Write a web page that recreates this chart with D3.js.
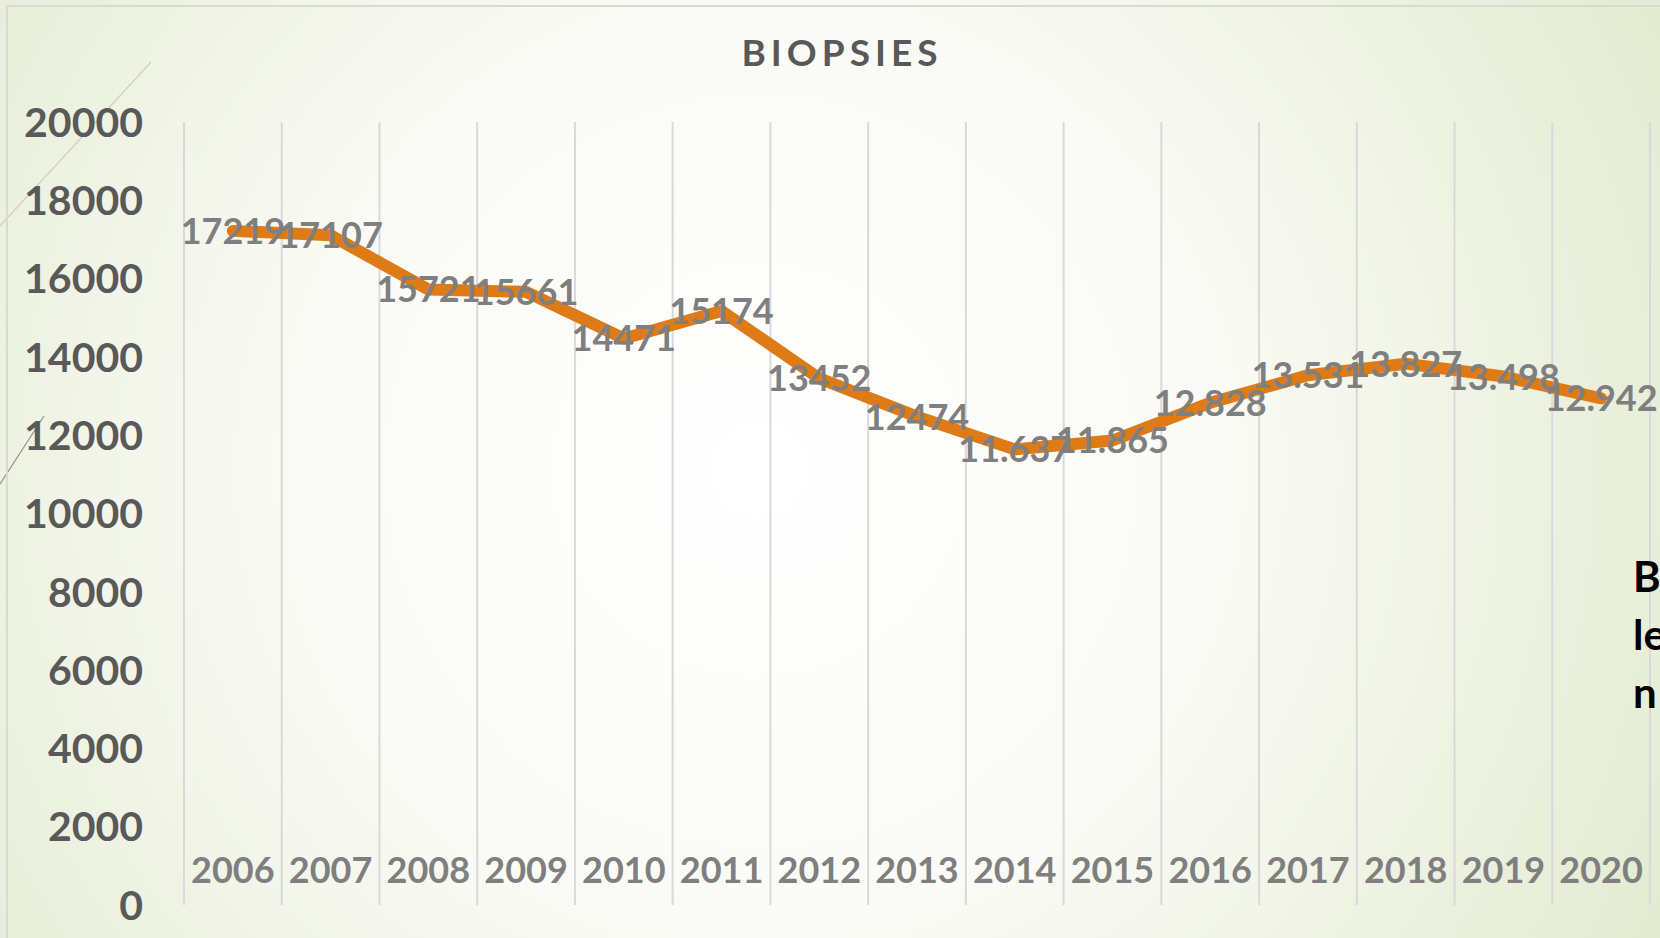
<!DOCTYPE html>
<html>
<head>
<meta charset="utf-8">
<script src="https://cdn.jsdelivr.net/npm/d3@7"></script>
<style>
  html, body { margin: 0; padding: 0; overflow: hidden; }
  body { width: 1660px; height: 938px; }
  svg { display: block; font-family: Lato, "Open Sans", sans-serif; }
</style>
</head>
<body>
<div id="chart"></div>
<script>
// Data
const years = ['2006', '2007', '2008', '2009', '2010', '2011', '2012', '2013', '2014', '2015', '2016', '2017', '2018', '2019', '2020'];
const biopsies = [17219, 17107, 15721, 15661, 14471, 15174, 13452, 12474, 11637, 11865, 12828, 13531, 13827, 13498, 12942];
const valueLabels = ['17219', '17107', '15721', '15661', '14471', '15174', '13452', '12474', '11.637', '11.865', '12.828', '13.531', '13.827', '13.498', '12.942'];
const yTicks = [0, 2000, 4000, 6000, 8000, 10000, 12000, 14000, 16000, 18000, 20000];
const chartTitle = 'BIOPSIES';
const sideText = ['B', 'le', 'n'];

const W = 1660, H = 938;
const plot = { left: 184, right: 1650, top: 122, bottom: 905 };

const svg = d3.select('#chart')
    .append('svg')
    .attr('width', W)
    .attr('height', H);

// Background
const defs = svg.append('defs');
const grad = defs.append('radialGradient')
    .attr('id', 'bg')
    .attr('gradientUnits', 'userSpaceOnUse')
    .attr('cx', 760).attr('cy', 470).attr('r', 1000);
grad.append('stop').attr('offset', '0%').attr('stop-color', '#ffffff');
grad.append('stop').attr('offset', '45%').attr('stop-color', '#fafbf6');
grad.append('stop').attr('offset', '100%').attr('stop-color', '#e4ebd2');

svg.append('rect')
    .attr('width', W).attr('height', H)
    .attr('fill', 'url(#bg)');

// Decorative slide lines
svg.append('line')
    .attr('x1', 151).attr('y1', 62).attr('x2', 0).attr('y2', 226)
    .attr('stroke', '#cdd2bd').attr('stroke-width', 1.2);
svg.append('line')
    .attr('x1', 44).attr('y1', 416).attr('x2', 0).attr('y2', 484)
    .attr('stroke', '#8c8f84').attr('stroke-width', 1.2);

// Chart frame
svg.append('rect')
    .attr('x', 7).attr('y', 6)
    .attr('width', 1700).attr('height', 1000)
    .attr('fill', 'none')
    .attr('stroke', '#d9d9d9').attr('stroke-width', 2);

// Scales
const x = d3.scaleBand()
    .domain(years)
    .range([plot.left, plot.right]);

const y = d3.scaleLinear()
    .domain([0, 20000])
    .range([plot.bottom, plot.top]);

const cx = d => x(d) + x.bandwidth() / 2;

// Vertical grid (category boundaries)
const bounds = years.map(d => x(d)).concat([plot.right]);
svg.append('g')
    .selectAll('line')
    .data(bounds)
    .join('line')
    .attr('x1', d => d).attr('x2', d => d)
    .attr('y1', plot.top).attr('y2', plot.bottom)
    .attr('stroke', '#d9d9d9')
    .attr('stroke-width', 2);

// Y axis labels
svg.append('g')
    .selectAll('text')
    .data(yTicks)
    .join('text')
    .attr('x', 143)
    .attr('y', d => y(d))
    .attr('dy', '0.36em')
    .attr('text-anchor', 'end')
    .attr('font-size', 41)
    .attr('font-weight', 'bold')
    .attr('fill', '#595959')
    .text(d => d);

// X axis labels (sit inside the plot, above zero)
svg.append('g')
    .selectAll('text')
    .data(years)
    .join('text')
    .attr('x', d => cx(d))
    .attr('y', 870)
    .attr('dy', '0.36em')
    .attr('text-anchor', 'middle')
    .attr('font-size', 36)
    .attr('font-weight', 'bold')
    .attr('fill', '#7f7f7f')
    .text(d => d);

// Title
svg.append('text')
    .attr('x', 842)
    .attr('y', 53)
    .attr('dy', '0.36em')
    .attr('text-anchor', 'middle')
    .attr('font-size', 37)
    .attr('font-weight', 'bold')
    .attr('letter-spacing', 5)
    .attr('fill', '#595959')
    .text(chartTitle);

// Line
const pts = years.map((d, i) => ({ year: d, value: biopsies[i], label: valueLabels[i] }));

const line = d3.line()
    .x(d => cx(d.year))
    .y(d => y(d.value));

svg.append('path')
    .datum(pts)
    .attr('d', line)
    .attr('fill', 'none')
    .attr('stroke', '#df7b17')
    .attr('stroke-width', 12)
    .attr('stroke-linejoin', 'round')
    .attr('stroke-linecap', 'round');

// Data labels, centred on points
svg.append('g')
    .selectAll('text')
    .data(pts)
    .join('text')
    .attr('x', d => cx(d.year))
    .attr('y', d => y(d.value))
    .attr('dy', '0.36em')
    .attr('text-anchor', 'middle')
    .attr('font-size', 36)
    .attr('font-weight', 'bold')
    .attr('fill', '#7f7f7f')
    .text(d => d.label);

// Cropped side text at the right edge
svg.append('g')
    .selectAll('text')
    .data(sideText)
    .join('text')
    .attr('x', 1633)
    .attr('y', (d, i) => 577 + i * 58)
    .attr('dy', '0.36em')
    .attr('font-size', 42)
    .attr('font-weight', 'bold')
    .attr('fill', '#000000')
    .text(d => d);
</script>
</body>
</html>
